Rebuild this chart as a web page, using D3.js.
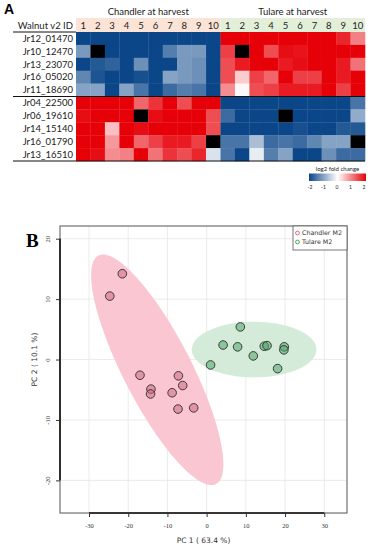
<!DOCTYPE html>
<html>
<head>
<meta charset="utf-8">
<script src="https://cdn.jsdelivr.net/npm/d3@7"></script>
<style>
  body { margin: 0; background: #fff; }
  svg { display: block; }
</style>
</head>
<body>
<script>
/* ---------------------------- */
/* DATA                         */
/* ---------------------------- */

// Panel A: heatmap
const geneIds = ["Jr12_01470", "Jr10_12470", "Jr13_23070", "Jr16_05020", "Jr11_18690",
                 "Jr04_22500", "Jr06_19610", "Jr14_15140", "Jr16_01790", "Jr13_16510"];
const sampleLabels = ["1", "2", "3", "4", "5", "6", "7", "8", "9", "10"];
const groupNames = ["Chandler at harvest", "Tulare at harvest"];

// log2 fold change, 10 Chandler columns then 10 Tulare columns (null = missing)
const chandlerValues = [
  [-2, -2, -2, -2, -2, -2, -2, -2, -2, -2],
  [-1.1, null, -2, -2, -2, -2, -1.4, -1.1, -1.1, -2],
  [-2, -1.8, -1.7, -2, -1.2, -2, -2, -1.1, -1.2, -2],
  [-1.3, -1.85, -2, -2, -1.9, -2, -1.0, -1.1, -1.2, -2],
  [-1.0, -1.0, -2, -1.0, -1.5, -2, -1.6, -1.4, -1.5, -2],
  [2, 2, 2, 2, 1.2, 1.6, 2, 1.4, 2, 2],
  [1.9, 2, 2, 2, null, 1.9, 2, 2, 2, 1.4],
  [2, 2, 0.5, 2, 1.9, 2, 2, 2, 2, 1.4],
  [2, 2, 0.8, 2, 1.2, 1.5, 1.8, 1.8, 1.5, null],
  [2, 1.9, 0.9, 1.0, 2, 1.1, 1.6, 1.4, 1.7, -0.3]
];
const tulareValues = [
  [2, 2, 2, 2, 2, 2, 2, 2, 1.7, 1.0],
  [1.5, null, 2, 1.4, 1.9, 1.85, 2, 2, 2, 2],
  [1.4, 1.8, 2, 2, 1.8, 1.9, 2, 2, 1.8, 1.1],
  [1.4, 0.4, 1.5, 1.2, 2, 1.5, 1.5, 2, 1.8, 2],
  [0.9, 0.05, 1.4, 1.5, 1.8, 1.8, 1.8, 2, 1.5, 2],
  [-2, -2, -2, -2, -2, -2, -2, -2, -2, -1.5],
  [-1.6, -2, -2, -2, null, -2, -2, -2, -2, -0.9],
  [-2, -2, -2, -2, -2, -1.9, -2, -2, -1.8, -1.8],
  [-1.5, -1.5, -0.7, -1.6, -1.5, -1.6, -1.3, -1.0, -1.0, null],
  [-1.5, -2, -0.2, -1.4, -1.0, -2, -2, -1.2, -1.6, -1.6]
];
const legendTicks = [-2, -1, 0, 1, 2];

// Panel B: PCA scores
const chandlerPC1 = [-21.5, -24.7, -17.0, -14.2, -14.3, -7.2, -6.1, -8.8, -7.3, -3.3];
const chandlerPC2 = [14.2, 10.5, -2.6, -4.9, -5.7, -2.7, -4.3, -5.5, -8.2, -8.0];
const tularePC1 = [8.6, 4.2, 7.9, 11.9, 14.7, 15.4, 19.8, 19.7, 18.1, 1.0];
const tularePC2 = [5.4, 2.4, 2.1, 0.6, 2.2, 2.3, 2.1, 1.6, -1.5, -0.9];
// confidence ellipses: centre + two conjugate semi-axis vectors (PC units)
const chandlerEllipse = {cx: -12.6, cy: -1.7, ax: -15.0, ay: 18.9, bx: 7.7, by: 2.6};
const tulareEllipse = {cx: 12.1, cy: 1.65, ax: 15.9, ay: 0, bx: 0, by: 4.6};
const pcaXTicks = [-30, -20, -10, 0, 10, 20, 30];
const pcaYTicks = [-20, -10, 0, 10, 20];
const legendNames = ["Chandler M2", "Tulare M2"];

/* ---------------------------- */
/* CANVAS                       */
/* ---------------------------- */

const W = 369, H = 550;
const svg = d3.select("body").append("svg")
    .attr("width", W)
    .attr("height", H);

const sans = "Lato, 'Open Sans', sans-serif";

/* ---------------------------- */
/* PANEL A - HEATMAP            */
/* ---------------------------- */

const hm = {left: 76, right: 365, top: 32, bottom: 161, labelX: 73, lineX: 13};

let allCols = d3.range(20);
let x = d3.scaleBand().domain(allCols).range([hm.left, hm.right]);
let y = d3.scaleBand().domain(geneIds).range([hm.top, hm.bottom]);
let color = d3.scaleLinear()
    .domain([-2, 0, 2])
    .range(["#0b4689", "#ffffff", "#e60008"])
    .clamp(true);

// flatten into cells
let cells = [];
geneIds.forEach((g, i) => {
    chandlerValues[i].forEach((v, j) => cells.push({gene: g, col: j, v: v}));
    tulareValues[i].forEach((v, j) => cells.push({gene: g, col: j + 10, v: v}));
});

svg.append("text")
    .attr("x", 4).attr("y", 14)
    .attr("font-family", "Arial, sans-serif")
    .attr("font-weight", "bold")
    .attr("font-size", 14)
    .text("A");

// group titles
groupNames.forEach((name, k) => {
    let c0 = x(k * 10), c1 = x(k * 10 + 9) + x.bandwidth();
    svg.append("text")
        .attr("x", (c0 + c1) / 2).attr("y", 15)
        .attr("text-anchor", "middle")
        .attr("font-family", sans)
        .attr("font-size", 9.5)
        .attr("fill", "#222")
        .text(name);
    // header band
    svg.append("rect")
        .attr("x", c0).attr("y", 18)
        .attr("width", c1 - c0).attr("height", hm.top - 18)
        .attr("fill", k === 0 ? "#fbe4d5" : "#e3efd9");
});

// column numbers
svg.selectAll(".colnum")
    .data(allCols)
    .enter()
    .append("text")
        .attr("class", "colnum")
        .attr("x", d => x(d) + x.bandwidth() / 2)
        .attr("y", 29)
        .attr("text-anchor", "middle")
        .attr("font-family", sans)
        .attr("font-size", 9.5)
        .attr("fill", "#222")
        .text(d => sampleLabels[d % 10]);

svg.append("text")
    .attr("x", hm.labelX).attr("y", 29)
    .attr("text-anchor", "end")
    .attr("font-family", sans)
    .attr("font-size", 9.5)
    .attr("fill", "#222")
    .text("Walnut v2 ID");

// cells
svg.selectAll(".cell")
    .data(cells)
    .enter()
    .append("rect")
        .attr("class", "cell")
        .attr("x", d => x(d.col))
        .attr("y", d => y(d.gene))
        .attr("width", x.bandwidth() + 0.3)
        .attr("height", y.bandwidth() + 0.3)
        .attr("fill", d => d.v === null ? "#000" : color(d.v));

// row labels
svg.selectAll(".rowlab")
    .data(geneIds)
    .enter()
    .append("text")
        .attr("class", "rowlab")
        .attr("x", hm.labelX)
        .attr("y", d => y(d) + y.bandwidth() / 2 + 3.3)
        .attr("text-anchor", "end")
        .attr("font-family", sans)
        .attr("font-size", 9.5)
        .attr("fill", "#222")
        .text(d => d);

// table rules
svg.append("line")
    .attr("x1", hm.lineX).attr("x2", hm.left)
    .attr("y1", hm.top).attr("y2", hm.top)
    .attr("stroke", "#111").attr("stroke-width", 1);
[y(geneIds[5]), hm.bottom].forEach(yy => {
    svg.append("line")
        .attr("x1", hm.lineX).attr("x2", hm.right)
        .attr("y1", yy).attr("y2", yy)
        .attr("stroke", "#111").attr("stroke-width", 1.2);
});

// colour legend
let lg = {x0: 309, x1: 366, y0: 173.5, h: 7.5};
let defs = svg.append("defs");
let grad = defs.append("linearGradient").attr("id", "lfc");
d3.range(0, 1.0001, 0.1).forEach(t => {
    grad.append("stop")
        .attr("offset", t)
        .attr("stop-color", color(-2 + 4 * t));
});
svg.append("text")
    .attr("x", (lg.x0 + lg.x1) / 2).attr("y", 171)
    .attr("text-anchor", "middle")
    .attr("font-family", sans)
    .attr("font-size", 6)
    .attr("fill", "#222")
    .text("log2 fold change");
svg.append("rect")
    .attr("x", lg.x0).attr("y", lg.y0)
    .attr("width", lg.x1 - lg.x0).attr("height", lg.h)
    .attr("fill", "url(#lfc)");
let lgScale = d3.scaleLinear().domain([-2, 2]).range([lg.x0 + 1, lg.x1 - 2]);
svg.selectAll(".lgtick")
    .data(legendTicks)
    .enter()
    .append("text")
        .attr("class", "lgtick")
        .attr("x", d => lgScale(d))
        .attr("y", 189)
        .attr("text-anchor", "middle")
        .attr("font-family", sans)
        .attr("font-size", 5)
        .attr("fill", "#222")
        .text(d => d);

/* ---------------------------- */
/* PANEL B - PCA                */
/* ---------------------------- */

const box = {left: 60, right: 347, top: 226, bottom: 513};

let px = d3.scaleLinear().domain([-37.4, 35.8]).range([box.left, box.right]);
let py = d3.scaleLinear().domain([-25.4, 22.1]).range([box.bottom, box.top]);

svg.append("text")
    .attr("x", 26).attr("y", 247)
    .attr("font-family", "'Liberation Serif', 'DejaVu Serif', serif")
    .attr("font-weight", "bold")
    .attr("font-size", 19)
    .text("B");

// grid
svg.selectAll(".vgrid")
    .data(pcaXTicks)
    .enter()
    .append("line")
        .attr("x1", d => px(d)).attr("x2", d => px(d))
        .attr("y1", box.top).attr("y2", box.bottom)
        .attr("stroke", "#e6e6e6").attr("stroke-width", 0.8);
svg.selectAll(".hgrid")
    .data(pcaYTicks)
    .enter()
    .append("line")
        .attr("x1", box.left).attr("x2", box.right)
        .attr("y1", d => py(d)).attr("y2", d => py(d))
        .attr("stroke", "#e6e6e6").attr("stroke-width", 0.8);

// ellipses drawn through the scales
function ellipsePath(e) {
    let pts = d3.range(0, 2 * Math.PI + 0.001, Math.PI / 60).map(t => [
        px(e.cx + e.ax * Math.cos(t) + e.bx * Math.sin(t)),
        py(e.cy + e.ay * Math.cos(t) + e.by * Math.sin(t))
    ]);
    return d3.line()(pts) + "Z";
}
svg.append("path")
    .attr("d", ellipsePath(chandlerEllipse))
    .attr("fill", "#f9c6d1");
svg.append("path")
    .attr("d", ellipsePath(tulareEllipse))
    .attr("fill", "#d3ebd8");

// points
let groups = [
    {xs: chandlerPC1, ys: chandlerPC2, fill: "#d46a84"},
    {xs: tularePC1, ys: tularePC2, fill: "#4fa56a"}
];
groups.forEach(g => {
    svg.selectAll(null)
        .data(d3.range(g.xs.length))
        .enter()
        .append("circle")
            .attr("cx", i => px(g.xs[i]))
            .attr("cy", i => py(g.ys[i]))
            .attr("r", 4.3)
            .attr("fill", g.fill)
            .attr("fill-opacity", 0.55)
            .attr("stroke", "#3a3a3a")
            .attr("stroke-width", 1);
});

// frame
svg.append("rect")
    .attr("x", box.left).attr("y", box.top)
    .attr("width", box.right - box.left).attr("height", box.bottom - box.top)
    .attr("fill", "none")
    .attr("stroke", "#555").attr("stroke-width", 1);

// axes
let xAxis = svg.append("g")
    .attr("transform", "translate(0," + box.bottom + ")")
    .call(d3.axisBottom(px).tickValues(pcaXTicks).tickSize(4).tickFormat(d => String(d)));
let yAxis = svg.append("g")
    .attr("transform", "translate(" + box.left + ",0)")
    .call(d3.axisLeft(py).tickValues(pcaYTicks).tickSize(4).tickFormat(d => String(d)));
[xAxis, yAxis].forEach(a => {
    a.select(".domain").attr("stroke", "#111").attr("stroke-width", 1.6);
    a.selectAll(".tick line").attr("stroke", "#333");
    a.selectAll("text")
        .attr("font-family", "'Liberation Serif', 'DejaVu Serif', serif")
        .attr("font-size", 6.5)
        .attr("fill", "#333");
});
// R style axis line: only across the tick range
xAxis.select(".domain").attr("d", "M" + px(pcaXTicks[0]) + ",0H" + px(pcaXTicks[pcaXTicks.length - 1]));
yAxis.select(".domain").attr("d", "M0," + py(pcaYTicks[0]) + "V" + py(pcaYTicks[pcaYTicks.length - 1]));
xAxis.selectAll("text").attr("y", 10);
yAxis.selectAll("text")
    .attr("x", null).attr("dy", null)
    .attr("text-anchor", "middle")
    .attr("transform", "translate(-12,0) rotate(-90)")
    .attr("y", 2);

// axis titles
svg.append("text")
    .attr("x", (box.left + box.right) / 2).attr("y", 543)
    .attr("text-anchor", "middle")
    .attr("font-family", "'DejaVu Sans', sans-serif")
    .attr("font-size", 7.5)
    .attr("fill", "#333")
    .text("PC 1 ( 63.4 %)");
svg.append("text")
    .attr("transform", "translate(37," + py(0) + ") rotate(-90)")
    .attr("text-anchor", "middle")
    .attr("font-family", "'DejaVu Sans', sans-serif")
    .attr("font-size", 7.5)
    .attr("fill", "#333")
    .text("PC 2 ( 10.1 %)");

// legend
let lgB = svg.append("g");
lgB.append("rect")
    .attr("x", 293).attr("y", box.top)
    .attr("width", box.right - 293).attr("height", 24)
    .attr("fill", "#fff")
    .attr("stroke", "#555").attr("stroke-width", 0.8);
legendNames.forEach((name, i) => {
    lgB.append("circle")
        .attr("cx", 297.5).attr("cy", 233 + i * 9)
        .attr("r", 1.9)
        .attr("fill", "none")
        .attr("stroke", groups[i].fill)
        .attr("stroke-width", 1);
    lgB.append("text")
        .attr("x", 302).attr("y", 235.3 + i * 9)
        .attr("font-family", "'DejaVu Sans', sans-serif")
        .attr("font-size", 6.3)
        .attr("fill", "#333")
        .text(name);
});
</script>
</body>
</html>
